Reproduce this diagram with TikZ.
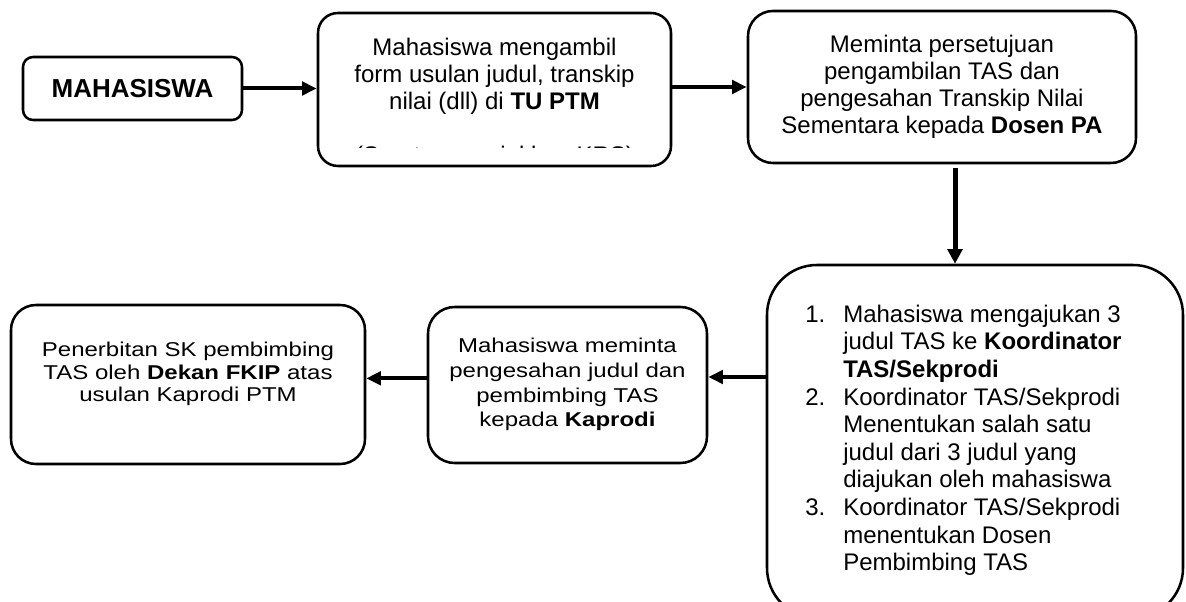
\documentclass[tikz,border=0pt]{standalone}
\usepackage{fontspec}
\setmainfont{Liberation Sans}
\usetikzlibrary{arrows.meta}

\begin{document}
\begin{tikzpicture}[x=0.75pt, y=-0.75pt, >={Triangle[length=11pt,width=10pt]},
  kotak/.style={draw=black, line width=1.9pt, fill=white, rounded corners=#1, inner sep=0pt},
  kotak/.default=15pt,
  teks/.style={align=center, inner sep=0pt, font=\fontsize{18}{20.25}\selectfont}]

\useasboundingbox (0,0) rectangle (1186,602);
\clip (0,0) rectangle (1186,602);

% kotak atas
\node[kotak=7.5pt, minimum width=164.25pt, minimum height=47.25pt,
      font=\fontsize{19.5}{22}\selectfont\bfseries] (mhs) at (132.5,88.5) {MAHASISWA};
\node[kotak=15pt, minimum width=264.75pt, minimum height=114.75pt] (ambil) at (494.5,89.5) {};
\begin{scope}
  \clip (318,13) rectangle (671,148);
  \node[teks, anchor=north] (ambilteks) at (494.5,38) {Mahasiswa mengambil\\form usulan judul, transkip\\nilai (dll) di \textbf{TU PTM}\\[20.25pt](Surat menunjukkan KRS)};
\end{scope}
\node[kotak=18.75pt, minimum width=291pt, minimum height=114pt, teks] (setuju) at (942,87)
  {Meminta persetujuan\\pengambilan TAS dan\\pengesahan Transkip Nilai\\Sementara kepada \textbf{Dosen PA}};

% kotak bawah
\node[kotak=37.5pt, minimum width=312pt, minimum height=264.75pt] (koor) at (975,441.5) {};
\node[anchor=north west, inner sep=0pt, font=\fontsize{18}{20.7}\selectfont] (koorteks) at (805,302.7)
  {\begin{tabular}{@{}p{28.5pt}@{}l@{}}
   1. & Mahasiswa mengajukan 3\\
      & judul TAS ke \textbf{Koordinator}\\
      & \textbf{TAS/Sekprodi}\\
   2. & Koordinator TAS/Sekprodi\\
      & Menentukan salah satu\\
      & judul dari 3 judul yang\\
      & diajukan oleh mahasiswa\\
   3. & Koordinator TAS/Sekprodi\\
      & menentukan Dosen\\
      & Pembimbing TAS
   \end{tabular}};
\node[kotak=20pt, minimum width=209.25pt, minimum height=117pt] (kaprodi) at (567.5,385)
  {\scalebox{1.2}[1]{\fontsize{15}{18.5}\selectfont\begin{tabular}{@{}c@{}}Mahasiswa meminta\\pengesahan judul dan\\pembimbing TAS\\kepada \textbf{Kaprodi}\end{tabular}}};
\node[kotak=18.75pt, minimum width=265.5pt, minimum height=119.25pt] (dekan) at (188,384.5)
  {\scalebox{1.2}[1]{\fontsize{15}{16.9}\selectfont\begin{tabular}{@{}c@{}}Penerbitan SK pembimbing\\TAS oleh \textbf{Dekan FKIP} atas\\usulan Kaprodi PTM\\[15pt]\end{tabular}}};

% panah
\draw[->, line width=3pt] (mhs.east) -- (mhs.east -| ambil.west);
\draw[->, line width=3pt] (setuju.west -| ambil.east) -- (setuju.west);
\coordinate (turun) at ([xshift=9.75pt,yshift=-3pt]setuju.south);
\draw[->, line width=3.75pt, >={Triangle[length=11pt,width=11pt]}] (turun) -- (turun |- koor.north);
\coordinate (ka) at ([yshift=6pt]kaprodi.east);
\draw[->, line width=3pt] (ka -| koor.west) -- (ka);
\coordinate (kk) at ([yshift=5pt]kaprodi.west);
\draw[->, line width=3pt] (kk) -- (kk -| dekan.east);

\end{tikzpicture}
\end{document}
